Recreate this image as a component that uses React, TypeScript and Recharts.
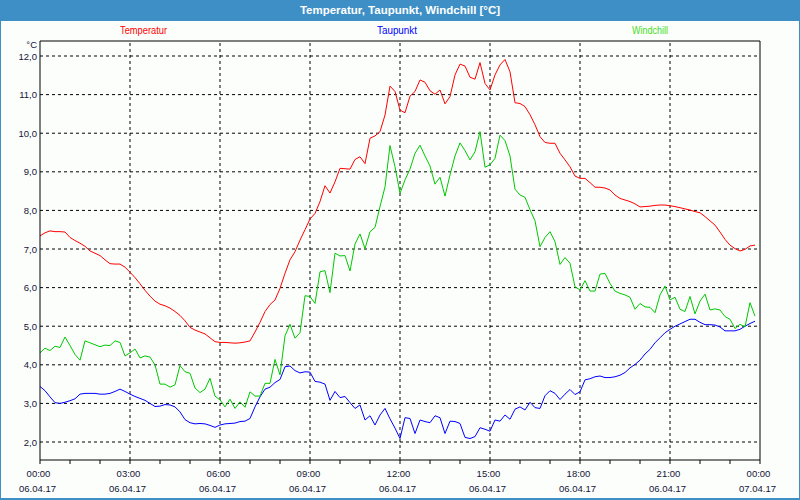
import React from 'react';
import { LineChart, Line, XAxis, YAxis, ReferenceLine } from 'recharts';

// Samples every 10 minutes from 06.04.17 00:00 to 23:50
const STEP_MIN = 10;

const TEMPERATUR = [
  7.34, 7.42, 7.47, 7.45, 7.45, 7.44, 7.30, 7.22, 7.15, 7.07,
  6.95, 6.89, 6.83, 6.72, 6.62, 6.61, 6.61, 6.53, 6.40, 6.26,
  6.10, 5.93, 5.78, 5.65, 5.57, 5.53, 5.47, 5.38, 5.28, 5.14,
  4.97, 4.90, 4.85, 4.80, 4.70, 4.60, 4.58, 4.58, 4.57, 4.56,
  4.57, 4.59, 4.62, 4.85, 5.10, 5.38, 5.56, 5.68, 5.98, 6.37,
  6.72, 6.93, 7.23, 7.50, 7.78, 7.92, 8.23, 8.64, 8.45, 8.74,
  9.09, 9.08, 9.07, 9.32, 9.39, 9.21, 9.87, 9.93, 10.04, 10.47,
  11.22, 11.08, 10.60, 10.53, 10.96, 11.08, 11.38, 11.32, 11.10, 11.01,
  11.12, 10.76, 10.95, 11.51, 11.79, 11.74, 11.45, 11.40, 11.83, 11.29,
  11.12, 11.51, 11.77, 11.91, 11.59, 10.79, 10.77, 10.69, 10.48, 10.22,
  9.91, 9.76, 9.74, 9.74, 9.48, 9.31, 9.13, 8.89, 8.83, 8.83,
  8.72, 8.60, 8.60, 8.58, 8.53, 8.40, 8.31, 8.27, 8.23, 8.17,
  8.09, 8.10, 8.11, 8.13, 8.14, 8.14, 8.12, 8.10, 8.07, 8.04,
  8.01, 7.97, 7.94, 7.84, 7.73, 7.62, 7.44, 7.25, 7.10, 7.01,
  6.95, 6.99, 7.08, 7.10,
];

const TAUPUNKT = [
  3.44, 3.33, 3.17, 3.02, 3.00, 3.03, 3.07, 3.12, 3.24, 3.26,
  3.26, 3.26, 3.24, 3.24, 3.26, 3.31, 3.37, 3.31, 3.24, 3.18,
  3.13, 3.08, 3.00, 2.92, 2.93, 2.97, 2.96, 2.91, 2.78, 2.58,
  2.50, 2.47, 2.48, 2.47, 2.43, 2.38, 2.44, 2.47, 2.48, 2.49,
  2.53, 2.54, 2.61, 2.91, 3.17, 3.37, 3.42, 3.54, 3.62, 3.95,
  3.97, 3.85, 3.79, 3.82, 3.81, 3.57, 3.55, 3.50, 3.08, 3.31,
  3.15, 3.18, 3.02, 2.87, 2.96, 2.57, 2.68, 2.44, 2.70, 2.87,
  2.60, 2.36, 2.09, 2.63, 2.61, 2.22, 2.57, 2.53, 2.50, 2.68,
  2.63, 2.22, 2.54, 2.53, 2.48, 2.12, 2.09, 2.14, 2.37, 2.33,
  2.28, 2.57, 2.54, 2.70, 2.59, 2.85, 2.91, 2.83, 3.03, 2.89,
  2.87, 3.20, 3.33, 3.26, 3.10, 3.24, 3.36, 3.23, 3.30, 3.61,
  3.64, 3.69, 3.71, 3.67, 3.67, 3.69, 3.73, 3.80, 3.92, 4.01,
  4.12, 4.28, 4.40, 4.57, 4.70, 4.83, 4.92, 5.00, 5.06, 5.12,
  5.18, 5.18, 5.10, 5.04, 5.04, 5.03, 4.98, 4.88, 4.88, 4.88,
  4.92, 5.00, 5.07, 5.13,
];

const WINDCHILL = [
  4.31, 4.43, 4.37, 4.48, 4.45, 4.72, 4.50, 4.27, 4.12, 4.62,
  4.57, 4.52, 4.47, 4.51, 4.50, 4.62, 4.58, 4.23, 4.31, 4.41,
  4.18, 4.23, 4.20, 4.00, 3.50, 3.50, 3.42, 3.48, 3.98, 3.82,
  3.78, 3.40, 3.28, 3.37, 3.65, 3.19, 3.09, 2.91, 3.11, 2.87,
  3.04, 2.90, 3.30, 3.19, 3.19, 3.52, 3.52, 4.14, 3.74, 4.75,
  5.05, 4.69, 4.83, 5.79, 5.77, 5.59, 6.41, 6.44, 5.87, 6.89,
  6.82, 6.83, 6.43, 7.13, 7.39, 7.01, 7.45, 7.56, 8.10, 8.61,
  9.68, 9.13, 8.44, 8.79, 9.07, 9.48, 9.69, 9.41, 9.15, 8.68,
  8.86, 8.37, 8.92, 9.41, 9.75, 9.55, 9.31, 9.52, 10.04, 9.12,
  9.18, 9.35, 9.95, 9.81, 9.41, 8.55, 8.40, 8.34, 8.02, 7.73,
  7.06, 7.30, 7.45, 7.19, 6.60, 6.78, 6.63, 6.02, 5.94, 6.18,
  5.91, 5.91, 6.35, 6.37, 6.11, 5.91, 5.85, 5.81, 5.75, 5.44,
  5.59, 5.50, 5.49, 5.35, 5.81, 6.04, 5.68, 5.75, 5.44, 5.38,
  5.77, 5.32, 5.65, 5.83, 5.42, 5.45, 5.42, 5.25, 5.18, 4.94,
  5.05, 4.98, 5.61, 5.26,
];

const X_TICK_TIMES = ['00:00', '03:00', '06:00', '09:00', '12:00', '15:00', '18:00', '21:00', '00:00'];
const X_TICK_DATES = ['06.04.17', '06.04.17', '06.04.17', '06.04.17', '06.04.17', '06.04.17', '06.04.17', '06.04.17', '07.04.17'];
const Y_TICKS = [2, 3, 4, 5, 6, 7, 8, 9, 10, 11, 12];
const Y_DOMAIN: [number, number] = [1.534, 12.389];
const X_MAX = 1440;
const MAJOR_STEP = 180;
const MINOR_STEP = 60;

const data = TEMPERATUR.map((t, i) => ({
  m: i * STEP_MIN,
  temp: t,
  dew: TAUPUNKT[i],
  wind: WINDCHILL[i],
}));

const hourTicks: number[] = [];
for (let m = 0; m <= X_MAX; m += MINOR_STEP) hourTicks.push(m);
const majorTicks = X_TICK_TIMES.map((_, i) => i * MAJOR_STEP);

const PLOT_BOTTOM = 460;
const TEXT_COLOR = '#141438';
const FONT = '"Liberation Sans", Arial, sans-serif';

const XTick = (props: any) => {
  const { x, payload } = props;
  const m = payload.value as number;
  const idx = m / MAJOR_STEP;
  const isMajor = m % MAJOR_STEP === 0;
  return (
    <g>
      <line x1={x} x2={x} y1={PLOT_BOTTOM} y2={PLOT_BOTTOM + 4} stroke="#000" strokeWidth={1} />
      {isMajor && (
        <text x={x - 1.5} y={PLOT_BOTTOM + 17} textAnchor="middle" fontSize={9.5} fontFamily={FONT} fill={TEXT_COLOR}>
          {X_TICK_TIMES[idx]}
        </text>
      )}
      {isMajor && (
        <text x={x - 2.5} y={PLOT_BOTTOM + 32} textAnchor="middle" fontSize={9.5} fontFamily={FONT} fill={TEXT_COLOR}>
          {X_TICK_DATES[idx]}
        </text>
      )}
    </g>
  );
};

const YTick = (props: any) => {
  const { y, payload } = props;
  const v = payload.value as number;
  return (
    <text x={37} y={y + 3.5} textAnchor="end" fontSize={9.5} fontFamily={FONT} fill={TEXT_COLOR}>
      {v.toFixed(1).replace('.', ',')}
    </text>
  );
};

export default function App() {
  return (
    <div style={{ position: 'fixed', left: 0, top: 0, width: 800, height: 500, background: '#fcfefc', overflow: 'hidden' }}>
      <div
        style={{
          position: 'absolute', left: 0, top: 0, width: 800, height: 21, background: '#3d8fc6',
          color: '#fff', fontFamily: FONT, fontWeight: 'bold', fontSize: 11.5, lineHeight: '21px', textAlign: 'center',
        }}
      >
        Temperatur, Taupunkt, Windchill [°C]
      </div>
      <div style={{ position: 'absolute', left: 0, top: 0 }}>
        <LineChart width={800} height={500} data={data} margin={{ top: 41, right: 40, bottom: 0, left: 0 }}>
          <XAxis
            dataKey="m"
            type="number"
            domain={[0, X_MAX]}
            ticks={hourTicks}
            tick={<XTick />}
            tickLine={false}
            axisLine={{ stroke: '#000', strokeWidth: 1 }}
            height={40}
            interval={0}
            allowDataOverflow
          />
          <YAxis
            type="number"
            domain={Y_DOMAIN}
            ticks={Y_TICKS}
            tick={<YTick />}
            tickLine={false}
            axisLine={{ stroke: '#000', strokeWidth: 1 }}
            width={40}
            interval={0}
            allowDataOverflow
          />
          {Y_TICKS.map((v) => (
            <ReferenceLine key={'h' + v} y={v} stroke="#000" strokeDasharray="3 3" strokeWidth={1} />
          ))}
          {majorTicks.slice(1, -1).map((m) => (
            <ReferenceLine key={'v' + m} x={m} stroke="#000" strokeDasharray="3 3" strokeWidth={1} />
          ))}
          <ReferenceLine y={Y_DOMAIN[1]} stroke="#000" strokeWidth={1} />
          <ReferenceLine x={X_MAX} stroke="#000" strokeWidth={1} />
          <Line type="linear" dataKey="temp" stroke="#ff0000" strokeWidth={1} dot={false} isAnimationActive={false} />
          <Line type="linear" dataKey="dew" stroke="#0000ff" strokeWidth={1} dot={false} isAnimationActive={false} />
          <Line type="linear" dataKey="wind" stroke="#00c800" strokeWidth={1} dot={false} isAnimationActive={false} />
        </LineChart>
      </div>
      <div style={{ position: 'absolute', left: 0, top: 0, width: 800, height: 500, pointerEvents: 'none' }}>
        <svg width={800} height={500} style={{ position: 'absolute', left: 0, top: 0 }}>
          <text x={120} y={34} fontSize={10} fontFamily={FONT} fill="#ff0000" textLength={47} lengthAdjust="spacingAndGlyphs">Temperatur</text>
          <text x={377} y={34} fontSize={10} fontFamily={FONT} fill="#0000ff" textLength={40} lengthAdjust="spacingAndGlyphs">Taupunkt</text>
          <text x={632} y={34} fontSize={10} fontFamily={FONT} fill="#44dd22" textLength={36} lengthAdjust="spacingAndGlyphs">Windchill</text>
          <text x={37} y={48} textAnchor="end" fontSize={9.5} fontFamily={FONT} fill={TEXT_COLOR}>°C</text>
        </svg>
        <div style={{ position: 'absolute', left: 0, top: 0, width: 800, height: 500, boxSizing: 'border-box', borderLeft: '1px solid #3d8fc6', borderRight: '1px solid #3d8fc6', borderBottom: '2px solid #3d8fc6' }} />
      </div>
    </div>
  );
}
